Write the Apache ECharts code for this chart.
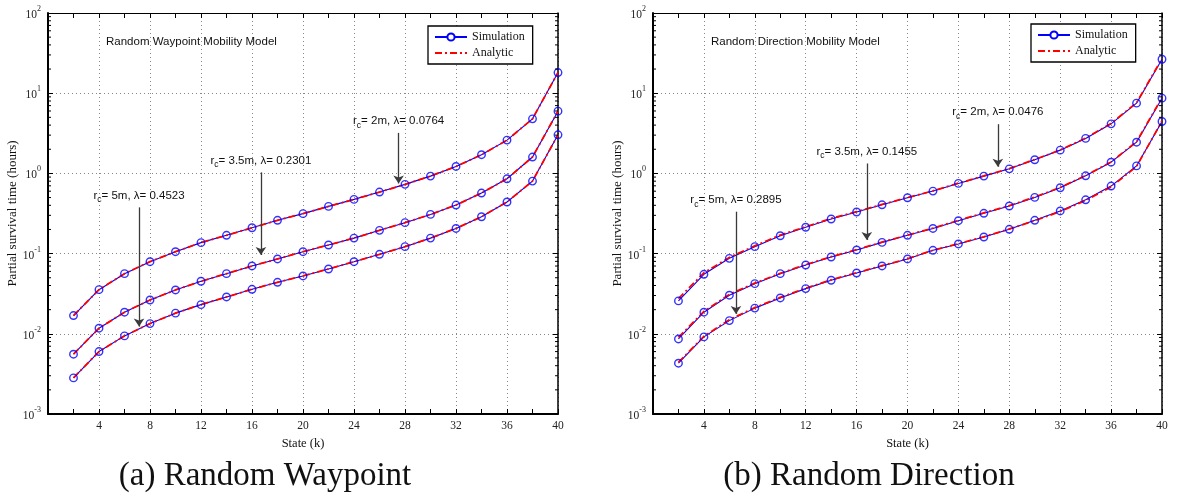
<!DOCTYPE html>
<html>
<head>
<meta charset="utf-8">
<script src="https://cdn.jsdelivr.net/npm/echarts@6/dist/echarts.min.js"></script>
<style>html,body{margin:0;padding:0;background:#fff;}#c{width:1183px;height:500px;}</style>
</head>
<body>
<div id="c"></div>
<script>
// ---------- data ----------
const states = [2,4,6,8,10,12,14,16,18,20,22,24,26,28,30,32,34,36,38,40];
const xTickLabels = [4,8,12,16,20,24,28,32,36,40];
const decades = [0.001,0.01,0.1,1,10,100];

// Random Waypoint (a)
const wpSim2  = [0.0169,0.0355,0.0562,0.0793,0.1056,0.137,0.169,0.210,0.260,0.315,0.388,0.474,0.585,0.730,0.925,1.22,1.71,2.60,4.79,18.1];
const wpSim35 = [0.00557,0.01174,0.0186,0.0264,0.0352,0.0452,0.0562,0.0701,0.0857,0.1056,0.128,0.156,0.195,0.243,0.308,0.403,0.569,0.857,1.60,5.97];
const wpSim5  = [0.00282,0.00601,0.00942,0.0134,0.0181,0.0231,0.0288,0.0359,0.0439,0.0526,0.0643,0.0793,0.098,0.122,0.156,0.206,0.288,0.440,0.802,3.03];
const wpAna2  = [0.0169,0.0355,0.0562,0.0793,0.1056,0.137,0.169,0.210,0.260,0.315,0.388,0.474,0.585,0.730,0.925,1.22,1.71,2.60,4.79,18.1];
const wpAna35 = [0.00557,0.01174,0.0186,0.0264,0.0352,0.0452,0.0562,0.0701,0.0857,0.1056,0.128,0.156,0.195,0.243,0.308,0.403,0.569,0.857,1.60,5.97];
const wpAna5  = [0.00282,0.00601,0.00942,0.0134,0.0181,0.0231,0.0288,0.0359,0.0439,0.0526,0.0643,0.0793,0.098,0.122,0.156,0.206,0.288,0.440,0.802,3.03];

// Random Direction (b)
const rdSim2  = [0.0257,0.0552,0.0873,0.122,0.167,0.213,0.270,0.330,0.406,0.497,0.602,0.750,0.925,1.14,1.48,1.95,2.73,4.15,7.51,26.5];
const rdSim35 = [0.00863,0.0186,0.0303,0.0422,0.0562,0.0721,0.0907,0.111,0.138,0.169,0.206,0.257,0.318,0.392,0.502,0.662,0.933,1.38,2.45,8.67];
const rdSim5  = [0.00430,0.00915,0.0146,0.0209,0.0280,0.0366,0.0465,0.0573,0.0701,0.0857,0.110,0.132,0.161,0.201,0.260,0.340,0.469,0.695,1.24,4.44];
const rdAna2  = [0.0275,0.0575,0.0895,0.125,0.170,0.216,0.274,0.334,0.410,0.500,0.606,0.755,0.930,1.15,1.49,1.96,2.75,4.20,7.60,27.0];
const rdAna35 = [0.00900,0.0190,0.0310,0.0428,0.0568,0.0728,0.0915,0.112,0.139,0.170,0.208,0.259,0.322,0.396,0.508,0.668,0.940,1.39,2.48,8.80];
const rdAna5  = [0.00440,0.00930,0.0150,0.0212,0.0284,0.0370,0.0470,0.0578,0.0706,0.0862,0.110,0.133,0.162,0.203,0.257,0.335,0.460,0.680,1.22,4.50];

// annotations: label parts, x, arrow start y, arrow end y
const wpNotes = [
  {rc:'2m',   lam:'0.0764', x:27.5, y0:3.2,  y1:0.75},
  {rc:'3.5m', lam:'0.2301', x:16.7, y0:1.03, y1:0.096},
  {rc:'5m',   lam:'0.4523', x:7.14, y0:0.377,y1:0.0123}
];
const rdNotes = [
  {rc:'2m',   lam:'0.0476', x:27.1, y0:4.11, y1:1.21},
  {rc:'3.5m', lam:'0.1455', x:16.8, y0:1.33, y1:0.148},
  {rc:'5m',   lam:'0.2895', x:6.52, y0:0.333,y1:0.0177}
];

const panels = [
  {title:'Random Waypoint Mobility Model', caption:'(a) Random Waypoint',
   sims:[wpSim2,wpSim35,wpSim5], anas:[wpAna2,wpAna35,wpAna5], notes:wpNotes},
  {title:'Random Direction Mobility Model', caption:'(b) Random Direction',
   sims:[rdSim2,rdSim35,rdSim5], anas:[rdAna2,rdAna35,rdAna5], notes:rdNotes}
];

// minor log ticks
const minorVals = [];
decades.slice(0,5).forEach(d => { for (let m=2;m<=9;m++) minorVals.push([0, m*d]); });

// ---------- layout ----------
const gridPos = [
  {left:48, top:13, width:510, height:401, legendLeft:428, legendTop:26, titleLeft:106, capCenter:265, yNameGap:29},
  {left:653, top:13, width:509, height:401, legendLeft:1031, legendTop:24, titleLeft:711, capCenter:869, yNameGap:28}
];

const serif = '"Liberation Serif","Times New Roman",serif';
const sans = '"Liberation Sans",Arial,sans-serif';

const grid = [], xAxis = [], yAxis = [], series = [], legend = [], graphic = [];

panels.forEach((p, i) => {
  const g = gridPos[i];
  grid.push({left:g.left, top:g.top, width:g.width, height:g.height, containLabel:false});
  xAxis.push({
    type:'value', gridIndex:i, min:0, max:40, interval:4, position:'bottom',
    axisLine:{show:true, onZero:false, lineStyle:{color:'#000', width:2}},
    axisTick:{show:true, inside:true, length:5, lineStyle:{color:'#000', width:1}},
    minorTick:{show:true, splitNumber:2, length:5, lineStyle:{color:'#000', width:1}},
    axisLabel:{fontFamily:serif, fontSize:11.5, color:'#222', margin:6,
      formatter: v => (xTickLabels.indexOf(v) >= 0 ? String(v) : '')},
    splitLine:{show:true, lineStyle:{color:'#888', width:1, type:[1,3]}},
    name:'State (k)', nameLocation:'middle', nameGap:17,
    nameTextStyle:{fontFamily:serif, fontSize:12.5, color:'#111'}
  });
  xAxis.push({
    type:'value', gridIndex:i, min:0, max:40, interval:4, position:'top',
    axisLine:{show:true, onZero:false, lineStyle:{color:'#000', width:1.2}},
    axisTick:{show:true, inside:true, length:5, lineStyle:{color:'#000', width:1}},
    minorTick:{show:true, splitNumber:2, length:5, lineStyle:{color:'#000', width:1}},
    axisLabel:{show:false}, splitLine:{show:false}
  });
  const yLabel = {
    fontFamily:serif, color:'#222', margin:7,
    formatter: v => '{b|10}{s|' + Math.round(Math.log10(v)) + '}',
    rich:{ b:{fontFamily:serif, fontSize:11.5, color:'#222', verticalAlign:'bottom', lineHeight:16},
           s:{fontFamily:serif, fontSize:8, color:'#222', verticalAlign:'top', lineHeight:16} }
  };
  yAxis.push({
    type:'log', logBase:10, gridIndex:i, min:0.001, max:100, position:'left',
    axisLine:{show:true, onZero:false, lineStyle:{color:'#000', width:2}},
    axisTick:{show:true, inside:true, length:5, lineStyle:{color:'#000', width:1}},
    axisLabel:yLabel,
    splitLine:{show:true, lineStyle:{color:'#888', width:1, type:[1,3]}},
    name:'Partial survival time (hours)', nameLocation:'middle', nameGap:g.yNameGap,
    nameTextStyle:{fontFamily:serif, fontSize:13, color:'#111'}
  });
  yAxis.push({
    type:'log', logBase:10, gridIndex:i, min:0.001, max:100, position:'right',
    axisLine:{show:true, onZero:false, lineStyle:{color:'#000', width:1.5}},
    axisTick:{show:true, inside:true, length:5, lineStyle:{color:'#000', width:1}},
    axisLabel:{show:false}, splitLine:{show:false}
  });

  const xi = 2*i, yi = 2*i;
  p.sims.forEach((sim, k) => {
    const n = p.notes[k];
    series.push({
      name:'Simulation', type:'line', xAxisIndex:xi, yAxisIndex:yi, z:2,
      data: states.map((s, j) => [s, sim[j]]),
      symbol:'emptyCircle', symbolSize:7, showSymbol:false,
      lineStyle:{color:'#0000ff', width:1.1}, itemStyle:{color:'#0000ff', borderWidth:1.3},
      animation:false, silent:true,
      markLine:{
        silent:true, animation:false, symbol:['none','arrow'], symbolSize:8,
        lineStyle:{color:'#3a3a3a', width:1.3, type:'solid'},
        itemStyle:{color:'#000'},
        label:{show:true, position:'start', distance:3,
          formatter: '{t|r}{s|c}{t|= ' + n.rc + ', \u03bb= ' + n.lam + '}',
          rich:{ t:{fontFamily:sans, fontSize:11.5, color:'#111', verticalAlign:'top', lineHeight:15},
                 s:{fontFamily:sans, fontSize:8.5, color:'#111', verticalAlign:'bottom', lineHeight:15} }},
        data:[[ {coord:[n.x, n.y0]}, {coord:[n.x, n.y1]} ]]
      }
    });
  });
  p.anas.forEach(ana => {
    series.push({
      name:'Analytic', type:'line', xAxisIndex:xi, yAxisIndex:yi, z:3,
      data: states.map((s, j) => [s, ana[j]]),
      symbol:'none', lineStyle:{color:'#ff0000', width:1.8, type:[7,3,2,3]},
      itemStyle:{color:'#ff0000'}, animation:false, silent:true
    });
  });
  p.sims.forEach(sim => {
    series.push({
      name:'simMarks', type:'scatter', xAxisIndex:xi, yAxisIndex:yi, z:4,
      data: states.map((s, j) => [s, sim[j]]),
      symbol:'circle', symbolSize:7.5,
      itemStyle:{color:'rgba(0,0,0,0)', borderColor:'#0000ff', borderWidth:1.4},
      animation:false, silent:true
    });
  });
  series.push({
    name:'minorTicks', type:'custom', xAxisIndex:xi, yAxisIndex:yi, z:5, silent:true, animation:false,
    data: minorVals,
    encode:{x:0, y:1},
    renderItem:(params, api) => {
      const v = api.value(1);
      const a = api.coord([0, v]);
      const b = api.coord([40, v]);
      return {type:'group', children:[
        {type:'line', shape:{x1:a[0], y1:a[1], x2:a[0]+3, y2:a[1]}, style:{stroke:'#000', lineWidth:1}},
        {type:'line', shape:{x1:b[0]-3, y1:b[1], x2:b[0], y2:b[1]}, style:{stroke:'#000', lineWidth:1}}
      ]};
    }
  });

  legend.push({
    data:[{name:'Simulation'}, {name:'Analytic', itemStyle:{color:'rgba(0,0,0,0)', borderWidth:0, opacity:0}}],
    orient:'vertical', left:g.legendLeft, top:g.legendTop,
    itemWidth:32, itemHeight:9, itemGap:4, padding:[5,8,5,6],
    borderColor:'#000', borderWidth:1.3, borderRadius:0, backgroundColor:'#fff',
    textStyle:{fontFamily:serif, fontSize:12, color:'#111'}, selectedMode:false
  });

  graphic.push({type:'text', left:g.titleLeft, top:36, z:10,
    style:{text:p.title, font:'11.5px ' + sans, fill:'#111'}});
  graphic.push({type:'text', x:g.capCenter, y:476, z:10,
    style:{text:p.caption, font:'33px ' + serif, fill:'#111', textAlign:'center', textVerticalAlign:'middle'}});
});

const chart = echarts.init(document.getElementById('c'), null, {renderer:'canvas', width:1183, height:500});
chart.setOption({
  animation:false,
  backgroundColor:'#fff',
  grid, xAxis, yAxis, series, legend, graphic
});
</script>
</body>
</html>
